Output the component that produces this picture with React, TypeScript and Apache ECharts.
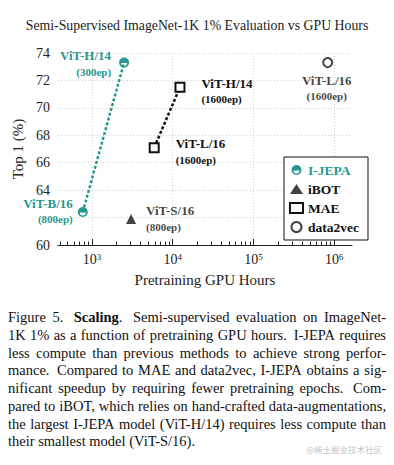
import React, { useEffect, useRef } from 'react';
import * as echarts from 'echarts';

const TEAL = '#26978c';
const SERIF = '"Liberation Serif", "DejaVu Serif", serif';

// ---- data ----
const ijepaModels = ['ViT-B/16', 'ViT-H/14'];
const ijepaEpochs = ['800ep', '300ep'];
const ijepaGpuHours = [770, 2500];
const ijepaTop1 = [62.4, 73.3];

const maeModels = ['ViT-L/16', 'ViT-H/14'];
const maeEpochs = ['1600ep', '1600ep'];
const maeGpuHours = [5900, 12300];
const maeTop1 = [67.1, 71.5];

const ibotModels = ['ViT-S/16'];
const ibotEpochs = ['800ep'];
const ibotGpuHours = [3050];
const ibotTop1 = [61.9];

const d2vModels = ['ViT-L/16'];
const d2vEpochs = ['1600ep'];
const d2vGpuHours = [830000];
const d2vTop1 = [73.3];

const xMajorTicks = [1e3, 1e4, 1e5, 1e6];
const xMinorTicks = [
  400, 500, 600, 700, 800, 900,
  2000, 3000, 4000, 5000, 6000, 7000, 8000, 9000,
  20000, 30000, 40000, 50000, 60000, 70000, 80000, 90000,
  200000, 300000, 400000, 500000, 600000, 700000, 800000, 900000,
];

const legendNames = ['I-JEPA', 'iBOT', 'MAE', 'data2vec'];

const titleText = 'Semi-Supervised ImageNet-1K 1% Evaluation vs GPU Hours';
const yAxisName = 'Top 1 (%)';
const xAxisName = 'Pretraining GPU Hours';

const captionLines = [
  'Figure 5.  **Scaling**.  Semi-supervised evaluation on ImageNet-',
  '1K 1% as a function of pretraining GPU hours.  I-JEPA requires',
  'less compute than previous methods to achieve strong perfor-',
  'mance.  Compared to MAE and data2vec, I-JEPA obtains a sig-',
  'nificant speedup by requiring fewer pretraining epochs.  Com-',
  'pared to iBOT, which relies on hand-crafted data-augmentations,',
  'the largest I-JEPA model (ViT-H/14) requires less compute than',
  'their smallest model (ViT-S/16).',
];
const watermark = '@稀土掘金技术社区';

// ---- label placement (style, not data) ----
const ijepaLabelPos = [
  { position: 'left', distance: 5, offset: [0, -1], bg: '#fff' },
  { position: 'left', distance: 8, offset: [0, 1], bg: 'transparent' },
];
const maeLabelPos = [
  { position: 'right', distance: 14, offset: [0, 4], bg: 'transparent' },
  { position: 'right', distance: 14, offset: [0, 4], bg: 'transparent' },
];
const ibotLabelPos = [{ position: 'right', distance: 8, offset: [0, 0], bg: 'transparent' }];
const d2vLabelPos = [{ position: 'bottom', distance: 4, offset: [-2, 0], bg: 'transparent' }];

const IJEPA_SYMBOL =
  'path://M0,10A10,10 0 1,0 20,10A10,10 0 1,0 0,10Z M4,11L16,11A6,6 0 0,1 4,11Z';

function labelRich(color: string) {
  return {
    m: { fontFamily: SERIF, fontWeight: 'bold', fontSize: 13, color, lineHeight: 16 },
    e: { fontFamily: SERIF, fontWeight: 'bold', fontSize: 11, color, lineHeight: 16 },
  };
}

function buildPoints(
  xs: number[], ys: number[], models: string[], epochs: string[], pos: any[], color: string
) {
  return xs.map((x, i) => ({
    value: [x, ys[i]],
    name: models[i],
    label: {
      show: true,
      position: pos[i].position,
      distance: pos[i].distance,
      offset: pos[i].offset,
      backgroundColor: pos[i].bg,
      padding: [0, 0, 0, 2],
      formatter: `{m|${models[i]}}\n{e|(${epochs[i]})}`,
      rich: labelRich(color),
    },
  }));
}

function captionGraphics(): any[] {
  const canvas = document.createElement('canvas');
  const ctx = canvas.getContext('2d')!;
  const size = 14.5;
  const fam = '"Liberation Serif"';
  const left = 8;
  const right = 386;
  const top = 317;
  const lh = 17.75;
  const els: any[] = [];
  captionLines.forEach((line, li) => {
    const raw = line.split(' ');
    const words: { segs: { t: string; bold: boolean }[]; gapUnits: number }[] = [];
    let pending = 0;
    raw.forEach((tok) => {
      if (tok === '') {
        pending += 0.6;
        return;
      }
      const segs: { t: string; bold: boolean }[] = [];
      const parts = tok.split('**');
      parts.forEach((p, pi) => {
        if (p) segs.push({ t: p, bold: pi % 2 === 1 });
      });
      words.push({ segs, gapUnits: words.length === 0 ? 0 : 1 + pending });
      pending = 0;
    });
    const segW = (s: { t: string; bold: boolean }) => {
      ctx.font = `${s.bold ? 'bold ' : ''}${size}px ${fam}`;
      return ctx.measureText(s.t).width;
    };
    const wordWidths = words.map((w) => w.segs.reduce((a, s) => a + segW(s), 0));
    const total = wordWidths.reduce((a, b) => a + b, 0);
    const units = words.reduce((a, w) => a + w.gapUnits, 0);
    ctx.font = `${size}px ${fam}`;
    const spaceW = ctx.measureText(' ').width;
    const justify = li < captionLines.length - 1;
    const unitW = justify && units > 0 ? (right - left - total) / units : spaceW;
    let x = left;
    const y = top + li * lh;
    words.forEach((w) => {
      x += w.gapUnits * unitW;
      w.segs.forEach((s) => {
        els.push({
          type: 'text',
          x,
          y,
          silent: true,
          style: {
            text: s.t,
            fontFamily: SERIF,
            fontSize: size,
            fontWeight: s.bold ? 'bold' : 'normal',
            fill: '#111',
            align: 'left',
            verticalAlign: 'middle',
          },
        });
        x += segW(s);
      });
    });
  });
  els.push({
    type: 'text',
    x: 382,
    y: 449,
    silent: true,
    style: {
      text: watermark,
      fontFamily: '"Noto Sans CJK SC", sans-serif',
      fontSize: 8.5,
      fill: '#c4c4c4',
      align: 'right',
      verticalAlign: 'middle',
    },
  });
  return els;
}

export default function App() {
  const ref = useRef<HTMLDivElement>(null);
  useEffect(() => {
    if (!ref.current) return;
    const chart = echarts.init(ref.current, undefined, { renderer: 'svg' });
    const xMin = 380;
    const xMax = 1.66e6;
    const option: any = {
      animation: false,
      backgroundColor: '#fff',
      title: {
        text: titleText,
        left: 'center',
        top: 13,
        textStyle: { fontFamily: SERIF, fontWeight: 'normal', fontSize: 13.8, color: '#222' },
      },
      grid: { left: 58, right: 42, top: 53, bottom: 220, containLabel: false },
      xAxis: [
        {
          type: 'log',
          logBase: 10,
          min: xMin,
          max: xMax,
          position: 'bottom',
          name: xAxisName,
          nameLocation: 'middle',
          nameGap: 27,
          nameTextStyle: { fontFamily: SERIF, fontSize: 15, color: '#222' },
          axisLine: { show: true, lineStyle: { color: '#222', width: 1.2 } },
          axisTick: {
            show: true,
            inside: true,
            length: 6,
            customValues: xMajorTicks,
            lineStyle: { color: '#222', width: 1 },
          },
          axisLabel: {
            customValues: xMajorTicks,
            margin: 7,
            color: '#222',
            formatter: (v: number) => `{b|10}{s|${Math.round(Math.log10(v))}}`,
            rich: {
              b: { fontFamily: SERIF, fontSize: 14, color: '#222' },
              s: { fontFamily: SERIF, fontSize: 9, color: '#222', verticalAlign: 'top' },
            },
          },
          splitLine: {
            show: true,
            lineStyle: { color: '#cfcfcf', type: [1, 2], width: 1 },
          },
        },
        {
          type: 'log',
          logBase: 10,
          min: xMin,
          max: xMax,
          position: 'bottom',
          axisLine: { show: false },
          axisTick: {
            show: true,
            inside: true,
            length: 3.5,
            customValues: xMinorTicks,
            lineStyle: { color: '#222', width: 1 },
          },
          axisLabel: { show: false },
          splitLine: { show: false },
        },
      ],
      yAxis: {
        type: 'value',
        min: 60,
        max: 74,
        interval: 2,
        name: yAxisName,
        nameLocation: 'middle',
        nameGap: 31,
        nameTextStyle: { fontFamily: SERIF, fontSize: 15, color: '#222' },
        axisLine: { show: false },
        axisTick: { show: false },
        axisLabel: { margin: 8, fontFamily: SERIF, fontSize: 14, color: '#222' },
        splitLine: { show: true, lineStyle: { color: '#cfcfcf', type: [1, 2], width: 1 } },
      },
      legend: {
        orient: 'vertical',
        left: 284,
        top: 157,
        padding: [6, 9, 6, 5],
        itemGap: 5,
        itemWidth: 13,
        itemHeight: 10,
        borderColor: '#111',
        borderWidth: 1,
        backgroundColor: '#fff',
        textStyle: { fontFamily: SERIF, fontWeight: 'bold', fontSize: 13.5, color: '#111' },
        data: [
          {
            name: legendNames[0],
            icon: IJEPA_SYMBOL,
            itemStyle: { color: TEAL, borderWidth: 0 },
            textStyle: { color: TEAL },
          },
          {
            name: legendNames[1],
            icon: 'triangle',
            itemStyle: { color: '#111', borderWidth: 0 },
          },
          {
            name: legendNames[2],
            icon: 'rect',
            itemStyle: { color: '#fff', borderColor: '#111', borderWidth: 2 },
          },
          {
            name: legendNames[3],
            icon: 'circle',
            itemStyle: { color: '#fff', borderColor: '#111', borderWidth: 2 },
          },
        ],
      },
      series: [
        {
          name: legendNames[0],
          type: 'line',
          xAxisIndex: 0,
          symbol: IJEPA_SYMBOL,
          symbolSize: 10,
          itemStyle: { color: TEAL },
          lineStyle: { color: TEAL, width: 2.5, type: [3, 2] },
          data: buildPoints(ijepaGpuHours, ijepaTop1, ijepaModels, ijepaEpochs, ijepaLabelPos, TEAL),
          z: 3,
        },
        {
          name: legendNames[1],
          type: 'scatter',
          xAxisIndex: 0,
          symbol: 'triangle',
          symbolSize: 10,
          itemStyle: { color: '#111' },
          data: buildPoints(ibotGpuHours, ibotTop1, ibotModels, ibotEpochs, ibotLabelPos, '#111'),
        },
        {
          name: legendNames[2],
          type: 'line',
          xAxisIndex: 0,
          symbol: 'rect',
          symbolSize: 9,
          itemStyle: { color: '#fff', borderColor: '#111', borderWidth: 2 },
          lineStyle: { color: '#111', width: 2.5, type: [3, 2] },
          data: buildPoints(maeGpuHours, maeTop1, maeModels, maeEpochs, maeLabelPos, '#111'),
        },
        {
          name: legendNames[3],
          type: 'scatter',
          xAxisIndex: 0,
          symbol: 'circle',
          symbolSize: 9,
          itemStyle: { color: '#fff', borderColor: '#111', borderWidth: 2 },
          data: buildPoints(d2vGpuHours, d2vTop1, d2vModels, d2vEpochs, d2vLabelPos, '#111'),
        },
      ],
      graphic: captionGraphics(),
    };
    chart.setOption(option);
    return () => chart.dispose();
  }, []);
  return (
    <div
      ref={ref}
      style={{ position: 'absolute', left: 0, top: 0, width: 394, height: 465 }}
    />
  );
}
